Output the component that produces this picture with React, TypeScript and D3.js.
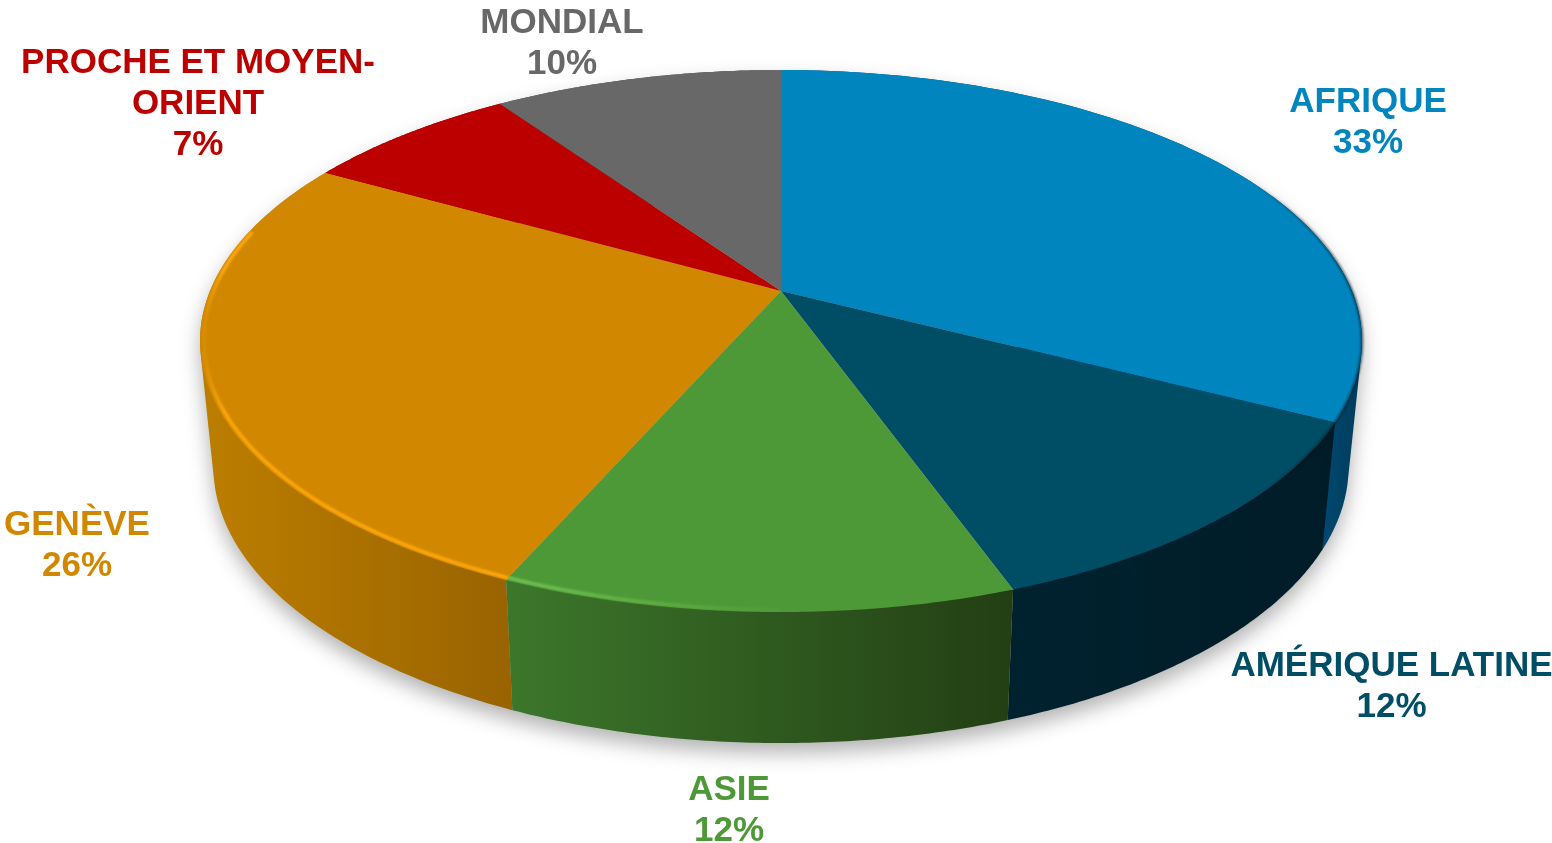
import React from "react";
import * as d3 from "d3";

// Region names and the percentage printed in each label
const regions = ["AFRIQUE", "AMÉRIQUE LATINE", "ASIE", "GENÈVE", "PROCHE ET MOYEN-|ORIENT", "MONDIAL"];
const printedPct = ["33%", "12%", "12%", "26%", "7%", "10%"];
// Slice shares
const shares = [32.6, 11.95, 12, 26.65, 7.2, 9.6];

const topColors = ["#0085BF", "#004D66", "#4E9937", "#D18800", "#BC0000", "#686868"];
const sideLeft = ["#004A72", "#00222F", "#3C772B", "#BC7E00", "#8C0000", "#4C4C4C"];
const sideRight = ["#003E5E", "#001C28", "#233F14", "#996300", "#8C0000", "#4C4C4C"];
const rimColors = ["#0085BF", "#004D66", "#6FC052", "#FFA70A", "#BC0000", "#686868"];
const labelColors = ["#0085BF", "#004D66", "#4E9937", "#D18800", "#BC0000", "#686868"];
const labelX = [1368, 1391.5, 729, 77, 198, 562];
const labelY = [111.5, 676, 799.5, 535, 72.5, 33];

const W = 1552, H = 843;
const CX = 781, CY = 291, A = 571, B = 261.8, K = 0.1845;
const BOTTOM_SX = 0.977, BOTTOM_SY = 1.02, BOTTOM_DY = 118.8;

type P = [number, number];
const project = (theta: number, r = 1): P => {
  const X = r * Math.sin(theta), Y = -r * Math.cos(theta), w = 1 - K * Y;
  return [CX + (A * X) / w, CY + (B * Y) / w];
};
const lower = (p: P): P => [CX + (p[0] - CX) * BOTTOM_SX, p[1] * BOTTOM_SY + BOTTOM_DY];

const arcPts = (a0: number, a1: number, r = 1): P[] =>
  d3.range(0, 81).map((i) => project(a0 + ((a1 - a0) * i) / 80, r));

const line = d3.line<P>().x((d) => d[0]).y((d) => d[1]);

const pieData = d3.pie<number>().sort(null).value((d) => d)(shares);

// back-to-front: sides whose mid-point is lowest go last
const sideOrder = d3.range(shares.length).sort(
  (a, b) =>
    project((pieData[a].startAngle + pieData[a].endAngle) / 2)[1] -
    project((pieData[b].startAngle + pieData[b].endAngle) / 2)[1]
);

const fullTop = arcPts(0, Math.PI * 2);
const fullBottom = fullTop.map(lower);
const bodyHull = d3.polygonHull([...fullTop, ...fullBottom]) as P[];

export default function App() {
  return (
    <svg
      width={W}
      height={H}
      viewBox={`0 0 ${W} ${H}`}
      style={{ position: "absolute", left: 0, top: 0, display: "block", background: "#fff" }}
    >
      <defs>
        <filter id="shadow" x="-10%" y="-20%" width="120%" height="140%">
          <feGaussianBlur stdDeviation="10" />
        </filter>
        <filter id="soft" x="-5%" y="-5%" width="110%" height="110%">
          <feGaussianBlur stdDeviation="0.9" />
        </filter>
        {shares.map((_, i) => (
          <linearGradient key={i} id={`side${i}`} gradientUnits="userSpaceOnUse"
            x1={i === 0 ? 1320 : i === 1 ? 1000 : i === 2 ? 505 : 205} y1="0"
            x2={i === 0 ? 1355 : i === 1 ? 1330 : i === 2 ? 1010 : 512} y2="0">
            <stop offset="0" stopColor={sideLeft[i]} />
            <stop offset="1" stopColor={sideRight[i]} />
          </linearGradient>
        ))}
        <linearGradient id="rimLight" gradientUnits="userSpaceOnUse" x1="200" y1="0" x2="800" y2="0">
          <stop offset="0" stopColor="#fff" stopOpacity="0" />
          <stop offset="0.04" stopColor="#fff" stopOpacity="1" />
          <stop offset="0.55" stopColor="#fff" stopOpacity="1" />
          <stop offset="1" stopColor="#fff" stopOpacity="0" />
        </linearGradient>
        <mask id="rimMask" maskUnits="userSpaceOnUse" x="0" y="0" width={W} height={H}>
          <rect x="0" y="0" width={W} height={H} fill="url(#rimLight)" />
        </mask>
        <linearGradient id="rimDark" gradientUnits="userSpaceOnUse" x1="1250" y1="0" x2="1362" y2="0">
          <stop offset="0" stopColor="#000" stopOpacity="0" />
          <stop offset="1" stopColor="#00202E" stopOpacity="0.7" />
        </linearGradient>
      </defs>

      <path d={line(bodyHull) + "Z"} transform="translate(0,10)" fill="#000" fillOpacity={0.3} filter="url(#shadow)" />

      {sideOrder.map((i) => {
        const s = pieData[i];
        const top = arcPts(s.startAngle, s.endAngle);
        const hull = d3.polygonHull([...top, ...top.map(lower)]) as P[];
        return <path key={i} d={line(hull) + "Z"} fill={`url(#side${i})`} />;
      })}

      {pieData.map((s, i) => (
        <path key={i} d={line([[CX, CY], ...arcPts(s.startAngle, s.endAngle)]) + "Z"} fill={topColors[i]} />
      ))}

      <g mask="url(#rimMask)">
        {pieData.map((s, i) =>
          i === 2 || i === 3 ? (
            <path key={i} d={line(arcPts(Math.max(s.startAngle, Math.PI), Math.min(s.endAngle, 4.95), 0.994)) ?? ""}
              fill="none" stroke={rimColors[i]} strokeWidth={3.5} filter="url(#soft)" />
          ) : null
        )}
      </g>
      <path d={line(arcPts(1.0, Math.PI * 0.92, 1)) ?? ""} fill="none" stroke="url(#rimDark)" strokeWidth={2.5} filter="url(#soft)" />

      <g fontFamily="'Liberation Sans', Arial, sans-serif" fontWeight={700} fontSize={35} textAnchor="middle">
        {regions.map((name, i) => {
          const lines = [...name.split("|"), printedPct[i]];
          return lines.map((t, j) => (
            <text key={`${i}-${j}`} x={labelX[i]} y={labelY[i] + j * 41.3} fill={labelColors[i]}>
              {t}
            </text>
          ));
        })}
      </g>
    </svg>
  );
}
